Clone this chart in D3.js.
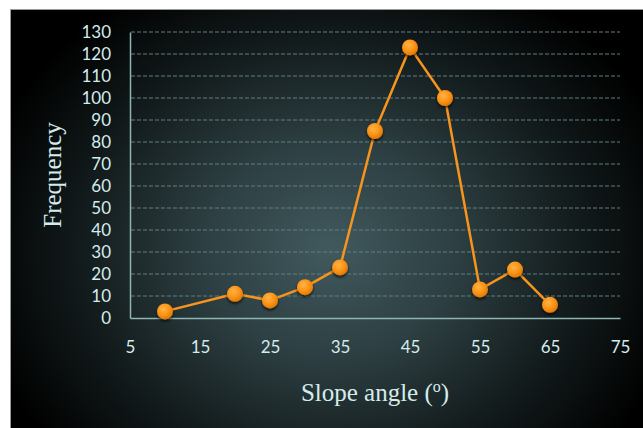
<!DOCTYPE html>
<html><head><meta charset="utf-8">
<script src="https://cdn.jsdelivr.net/npm/d3@7"></script>
<style>html,body{margin:0;padding:0;background:#fff;}svg{display:block;}</style>
</head><body>
<svg id="chart" width="643" height="428"></svg>
<script>
const slopeAngles = [10, 20, 25, 30, 35, 40, 45, 50, 55, 60, 65];
const frequencies = [3, 11, 8, 14, 23, 85, 123, 100, 13, 22, 6];
const xTicks = [5, 15, 25, 35, 45, 55, 65, 75];
const yTicks = [0,10,20,30,40,50,60,70,80,90,100,110,120,130];
const xTitle = "Slope angle (";
const yTitle = "Frequency";

const svg = d3.select("#chart");
const defs = svg.append("defs");
const rg = defs.append("radialGradient").attr("id","bg")
  .attr("gradientUnits","userSpaceOnUse")
  .attr("cx",330).attr("cy",250).attr("r",360)
  .attr("gradientTransform","translate(330,250) scale(1,0.85) translate(-330,-250)");
rg.append("stop").attr("offset","0%").attr("stop-color","#41595d");
rg.append("stop").attr("offset","35%").attr("stop-color","#2d3f42");
rg.append("stop").attr("offset","70%").attr("stop-color","#121a1b");
rg.append("stop").attr("offset","100%").attr("stop-color","#000");

const mg = defs.append("radialGradient").attr("id","mk").attr("cx","40%").attr("cy","35%").attr("r","65%");
mg.append("stop").attr("offset","0%").attr("stop-color","#ffb347");
mg.append("stop").attr("offset","60%").attr("stop-color","#fb9316");
mg.append("stop").attr("offset","100%").attr("stop-color","#e07a05");

const sh = defs.append("filter").attr("id","sh").attr("x","-50%").attr("y","-50%").attr("width","200%").attr("height","200%");
sh.append("feDropShadow").attr("dx",0).attr("dy",2).attr("stdDeviation",1.5).attr("flood-color","#000").attr("flood-opacity",0.7);

// frame
svg.append("rect").attr("x",10).attr("y",9).attr("width",633).attr("height",419).attr("fill","#9a9a9a");
svg.append("rect").attr("x",11).attr("y",10).attr("width",632).attr("height",418).attr("fill","url(#bg)");

const x = d3.scaleLinear().domain([5,75]).range([130,620]);
const y = d3.scaleLinear().domain([0,130]).range([318,32]);

// gridlines
svg.append("g").selectAll("line").data(yTicks.filter(d=>d>0)).join("line")
  .attr("x1",131).attr("x2",620).attr("y1",d=>y(d)).attr("y2",d=>y(d))
  .attr("stroke","#617f83").attr("stroke-width",1).attr("stroke-dasharray","4,2");

// axes
const yAxis = svg.append("g").attr("transform","translate(130,0)")
  .call(d3.axisLeft(y).tickValues(yTicks).tickSize(0).tickPadding(19));
const xAxis = svg.append("g").attr("transform","translate(0,318)")
  .call(d3.axisBottom(x).tickValues(xTicks).tickSize(0).tickPadding(23));
[yAxis, xAxis].forEach(a=>{
  a.select(".domain").attr("stroke","#8fb4b4").attr("stroke-width",1.5);
  a.selectAll("text").attr("fill","#d4ecec").attr("font-family","Lato, 'Open Sans', sans-serif").attr("font-size",17);
});
yAxis.selectAll("text").attr("dy","0.35em");

// line
const line = d3.line().x((d,i)=>x(slopeAngles[i])).y(d=>y(d));
svg.append("path").datum(frequencies).attr("d",line)
  .attr("fill","none").attr("stroke","#f7941d").attr("stroke-width",2.5).attr("stroke-linejoin","round");

svg.append("g").selectAll("circle").data(frequencies).join("circle")
  .attr("cx",(d,i)=>x(slopeAngles[i])).attr("cy",d=>y(d)).attr("r",8)
  .attr("fill","url(#mk)").attr("filter","url(#sh)");

// titles
svg.append("text").attr("transform","translate(61,175) rotate(-90)")
  .attr("text-anchor","middle").attr("fill","#d4ecec")
  .attr("font-family","'Liberation Serif', 'Times New Roman', serif").attr("font-size",25)
  .text(yTitle);
const xt = svg.append("text").attr("x",375).attr("y",401)
  .attr("text-anchor","middle").attr("fill","#d4ecec")
  .attr("font-family","'Liberation Serif', 'Times New Roman', serif").attr("font-size",25);
xt.append("tspan").text(xTitle);
xt.append("tspan").attr("font-size",16).attr("dy",-9).text("o");
xt.append("tspan").attr("dy",9).text(")");
</script>
</body></html>
